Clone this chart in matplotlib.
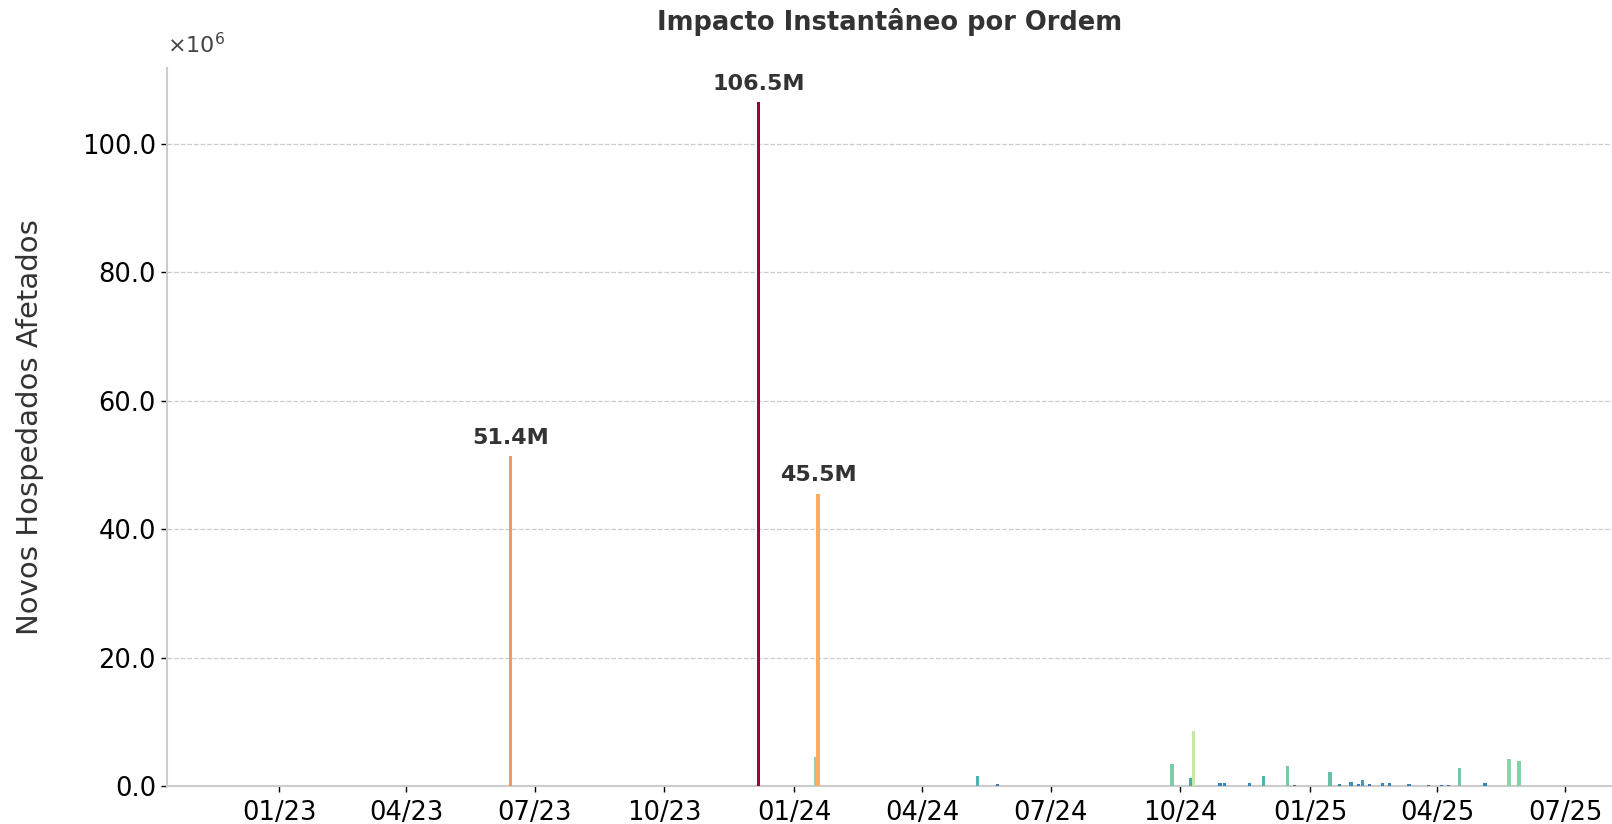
import matplotlib
matplotlib.use("Agg")
import matplotlib.pyplot as plt
import matplotlib.dates as mdates
from matplotlib.ticker import FuncFormatter
from matplotlib.colors import PowerNorm
import numpy as np
import pandas as pd

# ---- data ----
dates = ["2023-06-14", "2023-12-07", "2024-01-16", "2024-01-18", "2024-05-10",
         "2024-05-24", "2024-09-25", "2024-10-08", "2024-10-10", "2024-10-29",
         "2024-11-01", "2024-11-19", "2024-11-29", "2024-12-16", "2024-12-21",
         "2025-01-15", "2025-01-22", "2025-01-30", "2025-02-04", "2025-02-07",
         "2025-02-12", "2025-02-21", "2025-02-26", "2025-03-12", "2025-03-26",
         "2025-04-04", "2025-04-09", "2025-04-17", "2025-05-05", "2025-05-21",
         "2025-05-22", "2025-05-29"]
values_m = [51.4, 106.5, 4.5, 45.5, 1.6,
            0.25, 3.4, 1.25, 8.6, 0.4,
            0.5, 0.47, 1.5, 3.17, 0.1,
            2.2, 0.36, 0.6, 0.3, 0.93,
            0.26, 0.47, 0.47, 0.36, 0.1,
            0.2, 0.2, 2.86, 0.47, 0.05,
            4.26, 3.84]
label_threshold_m = 10.0
title = "Impacto Instantâneo por Ordem"
ylabel = "Novos Hospedados Afetados"
offset_label = r"$\times\mathdefault{10^{6}}$"

x = pd.to_datetime(dates)
y = np.array(values_m) * 1e6

fig = plt.figure(figsize=(16.12, 8.24), dpi=100)
ax = fig.add_axes([0.1033, 0.0461, 0.8967, 0.8716])

cmap = plt.get_cmap("Spectral_r")
norm = PowerNorm(gamma=0.42, vmin=0, vmax=y.max())
colors = cmap(norm(y))

ax.bar(x, y, width=2.3, color=colors, edgecolor="none", zorder=3)

for xi, yi in zip(x, y):
    if yi / 1e6 >= label_threshold_m:
        ax.annotate(f"{yi/1e6:.1f}M", (mdates.date2num(xi), yi),
                    xytext=(0, 6), textcoords="offset points",
                    ha="center", va="bottom", fontsize=16, fontweight="bold",
                    color="#333333")

ax.set_ylim(0, y.max() * 1.05)
ax.set_xlim(mdates.datestr2num("2022-10-13"), mdates.datestr2num("2025-08-03"))

ax.xaxis.set_major_locator(mdates.MonthLocator(bymonth=[1, 4, 7, 10]))
ax.xaxis.set_major_formatter(mdates.DateFormatter("%m/%y"))
ax.yaxis.set_major_formatter(FuncFormatter(lambda v, p: f"{v/1e6:.1f}"))

ax.text(0.0, 1.015, offset_label, transform=ax.transAxes, ha="left",
        va="bottom", fontsize=16, color="#444444")

ax.tick_params(axis="both", labelsize=18.5, colors="black", length=4, width=1)
ax.tick_params(axis="x", pad=6)
ax.grid(axis="y", linestyle="--", color="#cccccc", linewidth=0.9, zorder=0)
ax.set_axisbelow(True)

for s in ["top", "right"]:
    ax.spines[s].set_visible(False)
for s in ["left", "bottom"]:
    ax.spines[s].set_color("#cccccc")
    ax.spines[s].set_linewidth(1.5)

ax.set_title(title, fontsize=18.5, fontweight="bold", color="#333333", pad=27)
ax.set_ylabel(ylabel, fontsize=21, color="#333333", labelpad=27)

fig.savefig("out.png", dpi=100)
